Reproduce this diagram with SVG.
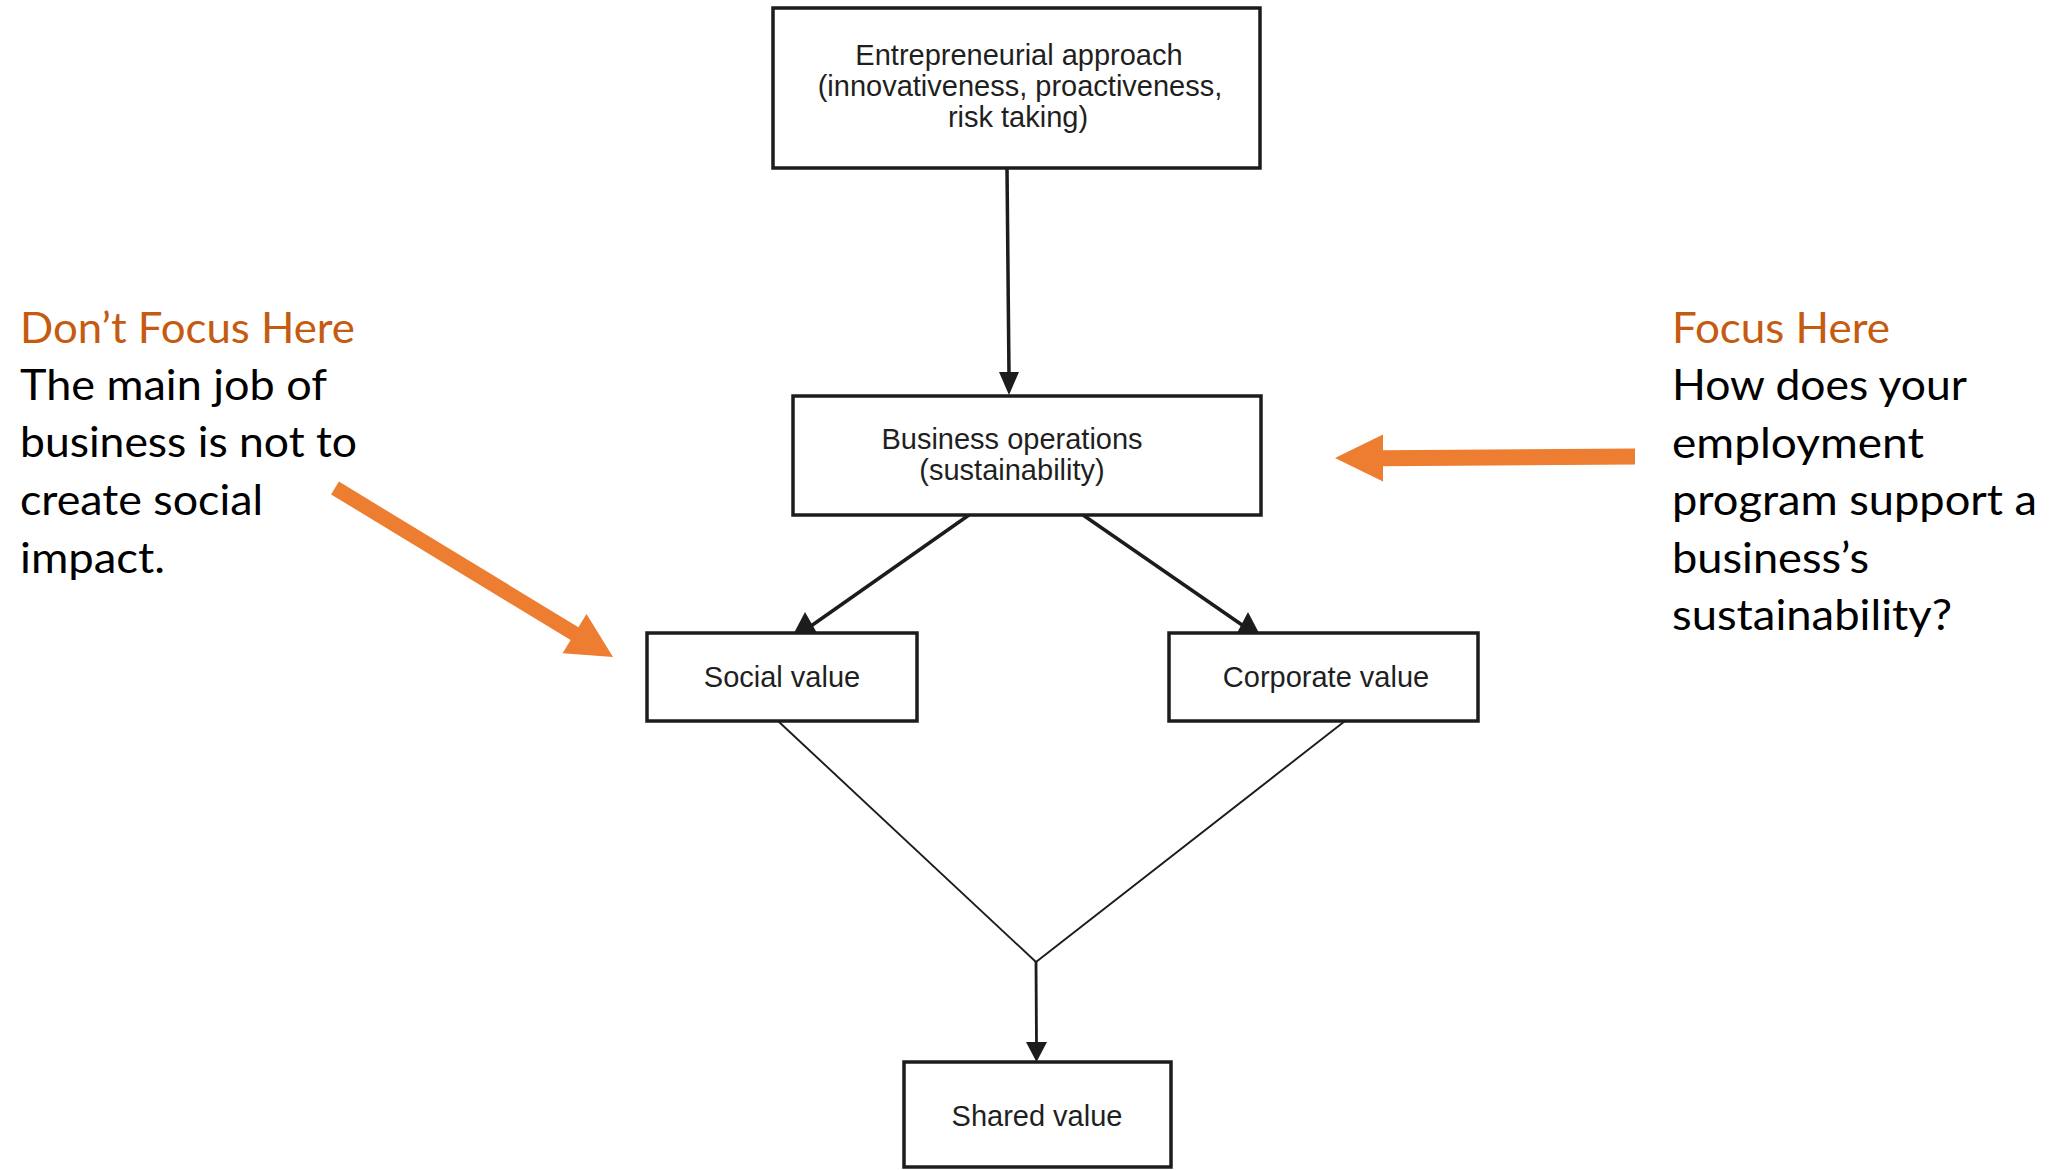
<svg xmlns="http://www.w3.org/2000/svg" width="2057" height="1170" viewBox="0 0 2057 1170">
<style>
.box{fill:#fff;stroke:#1c1c1c;stroke-width:3.5}
.lbl{font-family:"Liberation Sans",Arial,sans-serif;font-size:29px;fill:#1f1f1f;text-anchor:middle}
.conn{stroke:#1c1c1c;fill:none;stroke-linecap:butt}
.thick{stroke-width:3.5}
.mid{stroke-width:2.8}
.thin{stroke-width:1.9}
.head{fill:#1c1c1c}
.note{font-family:Lato,"Open Sans",sans-serif;font-size:43px;fill:#000}
.title{fill:#C55A11}
.callout{fill:#ED7D31}
</style>
<rect width="2057" height="1170" fill="#fff"/>

<g id="connectors">
  <line class="conn thick" x1="1007" y1="168" x2="1009" y2="376"/>
  <polygon class="head" points="999,372 1019,372 1009,395"/>
  <line class="conn thick" x1="969" y1="515" x2="811" y2="626"/>
  <polygon class="head" points="794,633 817,633 805,612"/>
  <line class="conn thick" x1="1083" y1="515" x2="1245" y2="627"/>
  <polygon class="head" points="1237,633 1259,633 1248,612"/>
  <line class="conn thin" x1="778" y1="721" x2="1036" y2="962"/>
  <line class="conn thin" x1="1345" y1="721" x2="1036" y2="962"/>
  <line class="conn mid" x1="1036" y1="961" x2="1036.5" y2="1046"/>
  <polygon class="head" points="1026,1042 1047,1042 1036.5,1062"/>
</g>

<g id="entrepreneurial-approach">
  <rect class="box" x="773" y="8" width="487" height="160"/>
  <text class="lbl" x="1019" y="65">Entrepreneurial approach</text>
  <text class="lbl" x="1020" y="96">(innovativeness, proactiveness,</text>
  <text class="lbl" x="1018" y="127">risk taking)</text>
</g>

<g id="business-operations">
  <rect class="box" x="793" y="396" width="468" height="119"/>
  <text class="lbl" x="1012" y="449">Business operations</text>
  <text class="lbl" x="1012" y="480">(sustainability)</text>
</g>

<g id="social-value">
  <rect class="box" x="647" y="633" width="270" height="88"/>
  <text class="lbl" x="782" y="687">Social value</text>
</g>

<g id="corporate-value">
  <rect class="box" x="1169" y="633" width="309" height="88"/>
  <text class="lbl" x="1326" y="687">Corporate value</text>
</g>

<g id="shared-value">
  <rect class="box" x="904" y="1062" width="267" height="105"/>
  <text class="lbl" x="1037" y="1126">Shared value</text>
</g>

<g id="dont-focus-note">
  <text class="note title" x="20" y="343" textLength="335" lengthAdjust="spacingAndGlyphs">Don’t Focus Here</text>
  <text class="note" x="20" y="400" textLength="307" lengthAdjust="spacingAndGlyphs">The main job of</text>
  <text class="note" x="20" y="457" textLength="337" lengthAdjust="spacingAndGlyphs">business is not to</text>
  <text class="note" x="20" y="515" textLength="243" lengthAdjust="spacingAndGlyphs">create social</text>
  <text class="note" x="20" y="573" textLength="145" lengthAdjust="spacingAndGlyphs">impact.</text>
  <polygon class="callout" points="338.9,481.6 578.4,627.2 586.5,613.9 613,657 562.6,653.3 570.6,640 331.1,494.4"/>
</g>

<g id="focus-note">
  <text class="note title" x="1672" y="343" textLength="218" lengthAdjust="spacingAndGlyphs">Focus Here</text>
  <text class="note" x="1672" y="400" textLength="295" lengthAdjust="spacingAndGlyphs">How does your</text>
  <text class="note" x="1672" y="458" textLength="252" lengthAdjust="spacingAndGlyphs">employment</text>
  <text class="note" x="1672" y="515" textLength="365" lengthAdjust="spacingAndGlyphs">program support a</text>
  <text class="note" x="1672" y="573" textLength="197" lengthAdjust="spacingAndGlyphs">business’s</text>
  <text class="note" x="1672" y="630" textLength="280" lengthAdjust="spacingAndGlyphs">sustainability?</text>
  <polygon class="callout" points="1635,448.5 1383,450.3 1383,434.5 1335,458 1383,481.5 1383,466.3 1635,464.5"/>
</g>
</svg>
